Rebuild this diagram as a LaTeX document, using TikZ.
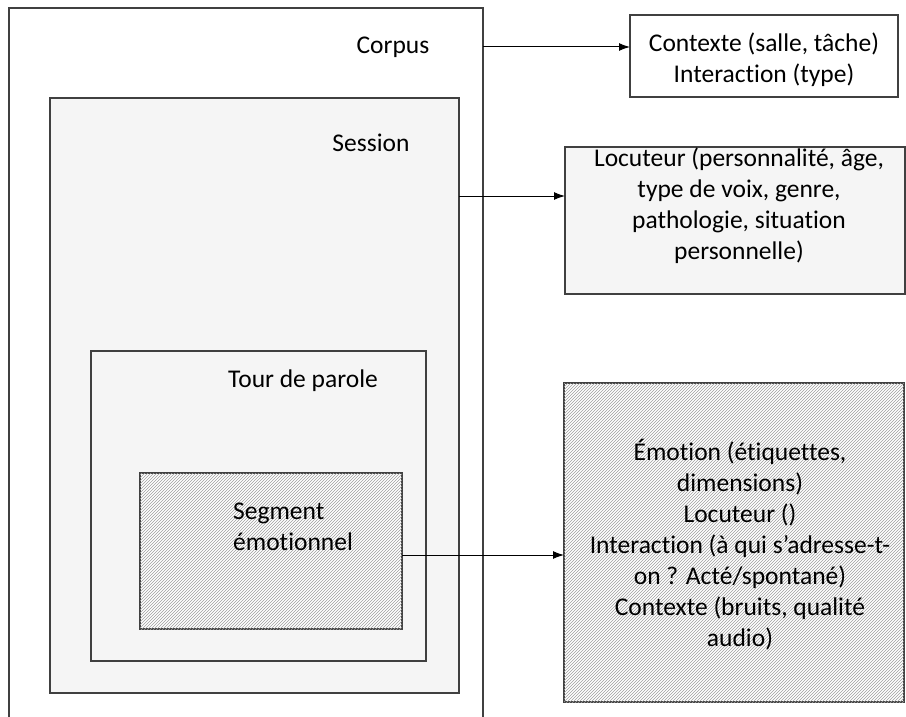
\documentclass[tikz,border=0pt]{standalone}
\usepackage{fontspec}
\setmainfont{Carlito}[Ligatures=NoCommon]
\usepackage{tikz}
\usetikzlibrary{patterns,arrows.meta,positioning}

\tikzset{
  cadre/.style={draw=black!75, line width=1.2pt, anchor=north west, inner sep=0pt, outer sep=0pt},
  pointille/.style={cadre, fill=black!4},
  hachure/.style={cadre, fill=white, postaction={pattern=north east lines, pattern color=black!38}},
  texte/.style={font=\fontsize{25.5}{31}\selectfont, align=center, inner sep=0pt},
  fleche/.style={-{Latex[length=11pt,width=8pt]}, line width=1pt},
}

\begin{document}
\begin{tikzpicture}[x=1pt, y=-1pt]
            \useasboundingbox (0,0) rectangle (906,717);
            \clip (0,0) rectangle (906,717);
            % Boites imbriquees
            \node[cadre, minimum width=474, minimum height=760] (corpus) at (9,8) {};
            \node[pointille, minimum width=409, minimum height=595] (session) at (50,98) {};
            \node[pointille, minimum width=335, minimum height=310] (tour) at (91,351) {};
            \node[hachure, minimum width=262, minimum height=156] (segment) at (140,473) {};
            % Boites de droite
            \node[cadre, fill=white, minimum width=268, minimum height=82] (ctxbox) at (630,15) {};
            \node[pointille, minimum width=340, minimum height=147] (locbox) at (565,147) {};
            \node[hachure, minimum width=340, minimum height=319] (emobox) at (564,383) {};
            % Textes
            \node[texte] (corpuslbl) at (393,47) {Corpus};
            \node[texte] (sessionlbl) at (371,143) {Session};
            \node[texte] (tourlbl) at (303,381) {Tour de parole};
            \node[texte, align=left, anchor=west] (segmentlbl) at (233,527) {Segment\\émotionnel};
            \node[texte] (ctxlbl) at (764,60) {Contexte (salle, tâche)\\Interaction (type)};
            \node[texte] (loclbl) at (739,206) {Locuteur (personnalité, âge,\\type de voix, genre,\\pathologie, situation\\personnelle)};
            \node[texte] (emolbl) at (740,545) {Émotion (étiquettes,\\dimensions)\\Locuteur ()\\Interaction (à qui s’adresse-t-\\on ? Acté/spontané)\\Contexte (bruits, qualité\\audio)};
            % Fleches
            \coordinate (sessionout) at (459,196);
            \coordinate (segmentout) at (402,555);
            \draw[fleche] (corpus.east |- corpuslbl) -- (ctxbox.west |- corpuslbl);
            \draw[fleche] (sessionout) -- (locbox.west |- sessionout);
            \draw[fleche] (segmentout) -- (emobox.west |- segmentout);
       \end{tikzpicture}
\end{document}
